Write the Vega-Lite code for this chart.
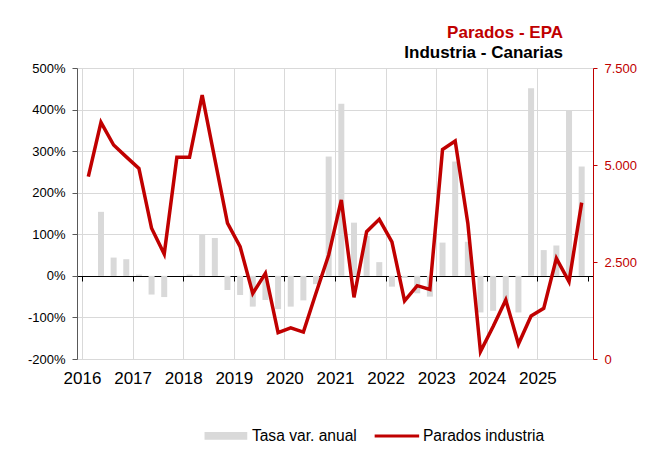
{
  "$schema": "https://vega.github.io/schema/vega-lite/v6.json",
  "width": 516,
  "height": 291,
  "autosize": {"type": "none"},
  "padding": {"left": 77, "top": 68, "right": 71, "bottom": 95},
  "background": "white",
  "config": {"font": "Liberation Sans", "view": {"stroke": null}},
  "title": {
    "text": "Parados - EPA",
    "subtitle": "Industria - Canarias",
    "anchor": "end",
    "frame": "group",
    "dx": -30,
    "offset": 0,
    "font": "Liberation Sans",
    "fontSize": 17,
    "fontWeight": "bold",
    "color": "#c00000",
    "subtitleFont": "Liberation Sans",
    "subtitleFontSize": 17,
    "subtitleFontWeight": "bold",
    "subtitleColor": "#000000",
    "subtitlePadding": 3
  },
  "data": {
    "values": [
      {"t": 2016.125, "tasa": null, "parados": 4700},
      {"t": 2016.375, "tasa": 154, "parados": 6100},
      {"t": 2016.625, "tasa": 44, "parados": 5515},
      {"t": 2016.875, "tasa": 40, "parados": 5210},
      {"t": 2017.125, "tasa": 3, "parados": 4910},
      {"t": 2017.375, "tasa": -45, "parados": 3370},
      {"t": 2017.625, "tasa": -51, "parados": 2705},
      {"t": 2017.875, "tasa": 0, "parados": 5200},
      {"t": 2018.125, "tasa": 3, "parados": 5200},
      {"t": 2018.375, "tasa": 99, "parados": 6800},
      {"t": 2018.625, "tasa": 91, "parados": 5150},
      {"t": 2018.875, "tasa": -34, "parados": 3500},
      {"t": 2019.125, "tasa": -46, "parados": 2895},
      {"t": 2019.375, "tasa": -74, "parados": 1690},
      {"t": 2019.625, "tasa": -58, "parados": 2210},
      {"t": 2019.875, "tasa": -80, "parados": 680},
      {"t": 2020.125, "tasa": -74, "parados": 805},
      {"t": 2020.375, "tasa": -59, "parados": 695},
      {"t": 2020.625, "tasa": -20, "parados": 1700},
      {"t": 2020.875, "tasa": 287, "parados": 2680},
      {"t": 2021.125, "tasa": 414, "parados": 4100},
      {"t": 2021.375, "tasa": 128, "parados": 1590},
      {"t": 2021.625, "tasa": 96, "parados": 3280},
      {"t": 2021.875, "tasa": 33, "parados": 3600},
      {"t": 2022.125, "tasa": -26, "parados": 3020},
      {"t": 2022.375, "tasa": -5, "parados": 1500},
      {"t": 2022.625, "tasa": -42, "parados": 1890},
      {"t": 2022.875, "tasa": -50, "parados": 1795},
      {"t": 2023.125, "tasa": 80, "parados": 5400},
      {"t": 2023.375, "tasa": 275, "parados": 5620},
      {"t": 2023.625, "tasa": 82, "parados": 3500},
      {"t": 2023.875, "tasa": -88, "parados": 190},
      {"t": 2024.125, "tasa": -84, "parados": 835},
      {"t": 2024.375, "tasa": -62, "parados": 1520},
      {"t": 2024.625, "tasa": -88, "parados": 385},
      {"t": 2024.875, "tasa": 451, "parados": 1110},
      {"t": 2025.125, "tasa": 62, "parados": 1305},
      {"t": 2025.375, "tasa": 73, "parados": 2595},
      {"t": 2025.625, "tasa": 399, "parados": 1995},
      {"t": 2025.875, "tasa": 263, "parados": 4030}
    ]
  },
  "layer": [
    {
      "mark": {"type": "bar", "size": 6},
      "encoding": {
        "x": {
          "field": "t",
          "type": "quantitative",
          "scale": {"domain": [2016, 2026], "nice": false, "zero": false},
          "axis": {
            "orient": "bottom",
            "title": null,
            "values": [2016, 2017, 2018, 2019, 2020, 2021, 2022, 2023, 2024, 2025],
            "format": "d",
            "domain": false,
            "ticks": false,
            "grid": true,
            "gridColor": "#d9d9d9",
            "labelFont": "Liberation Sans",
            "labelFontSize": 17,
            "labelColor": "#000000",
            "labelPadding": 11,
            "encode": {"labels": {"update": {"dx": {"signal": "7 - 1.83*(datum.value-2016)"}}}}
          }
        },
        "y": {
          "field": "tasa",
          "type": "quantitative",
          "scale": {"domain": [-200, 500], "nice": false, "zero": false},
          "axis": {
            "orient": "left",
            "title": null,
            "values": [-200, -100, 0, 100, 200, 300, 400, 500],
            "labelExpr": "datum.value + '%'",
            "grid": true,
            "gridColor": {"condition": {"test": "datum.value === 0", "value": "#000000"}, "value": "#d9d9d9"},
            "domainColor": "#595959",
            "tickColor": "#595959",
            "tickSize": 5,
            "labelFont": "Liberation Sans",
            "labelFontSize": 13,
            "labelColor": "#000000",
            "labelPadding": 7
          }
        },
        "color": {
          "datum": "Tasa var. anual",
          "type": "nominal",
          "scale": {"domain": ["Tasa var. anual", "Parados industria"], "range": ["#d9d9d9", "#c00000"]},
          "legend": {
            "orient": "none",
            "legendX": 126.4,
            "legendY": 345,
            "direction": "horizontal",
            "title": null,
            "padding": 0,
            "labelFont": "Liberation Sans",
            "labelFontSize": 15.6,
            "labelColor": "#000000",
            "labelOffset": 3.5,
            "columnPadding": 17,
            "symbolType": "M-1,-0.07H1V0.07H-1Z",
            "symbolSize": 1980,
            "symbolStrokeWidth": 0,
            "encode": {
              "symbols": {
                "update": {
                  "shape": {"signal": "datum.value === 'Tasa var. anual' ? 'M-0.96,-0.175H0.96V0.175H-0.96Z' : 'M-1,-0.07H1V0.07H-1Z'"},
                  "fill": {"signal": "datum.value === 'Tasa var. anual' ? '#d9d9d9' : '#c00000'"},
                  "fillOpacity": {"value": 1},
                  "strokeWidth": {"value": 0}
                }
              }
            }
          }
        }
      }
    },
    {
      "mark": {"type": "line", "strokeWidth": 3.5},
      "encoding": {
        "x": {
          "field": "t",
          "type": "quantitative",
          "axis": {
            "orient": "bottom",
            "offset": -83,
            "title": null,
            "values": [2016, 2017, 2018, 2019, 2020, 2021, 2022, 2023, 2024, 2025, 2026],
            "labels": false,
            "grid": false,
            "domain": true,
            "domainColor": "#000000",
            "ticks": true,
            "tickColor": "#000000",
            "tickSize": 5,
            "encode": {"ticks": {"update": {"y": {"value": -5}}}}
          }
        },
        "y": {
          "field": "parados",
          "type": "quantitative",
          "scale": {"domain": [0, 7500], "nice": false},
          "axis": {
            "orient": "right",
            "title": null,
            "values": [0, 2500, 5000, 7500],
            "labelExpr": "replace(format(datum.value, ','), ',', '.')",
            "grid": false,
            "domainColor": "#c00000",
            "tickColor": "#c00000",
            "tickSize": 4,
            "labelFont": "Liberation Sans",
            "labelFontSize": 13,
            "labelColor": "#c00000",
            "labelPadding": 7
          }
        },
        "color": {"datum": "Parados industria", "type": "nominal"}
      }
    }
  ],
  "resolve": {"scale": {"y": "independent"}, "axis": {"x": "independent"}}
}
